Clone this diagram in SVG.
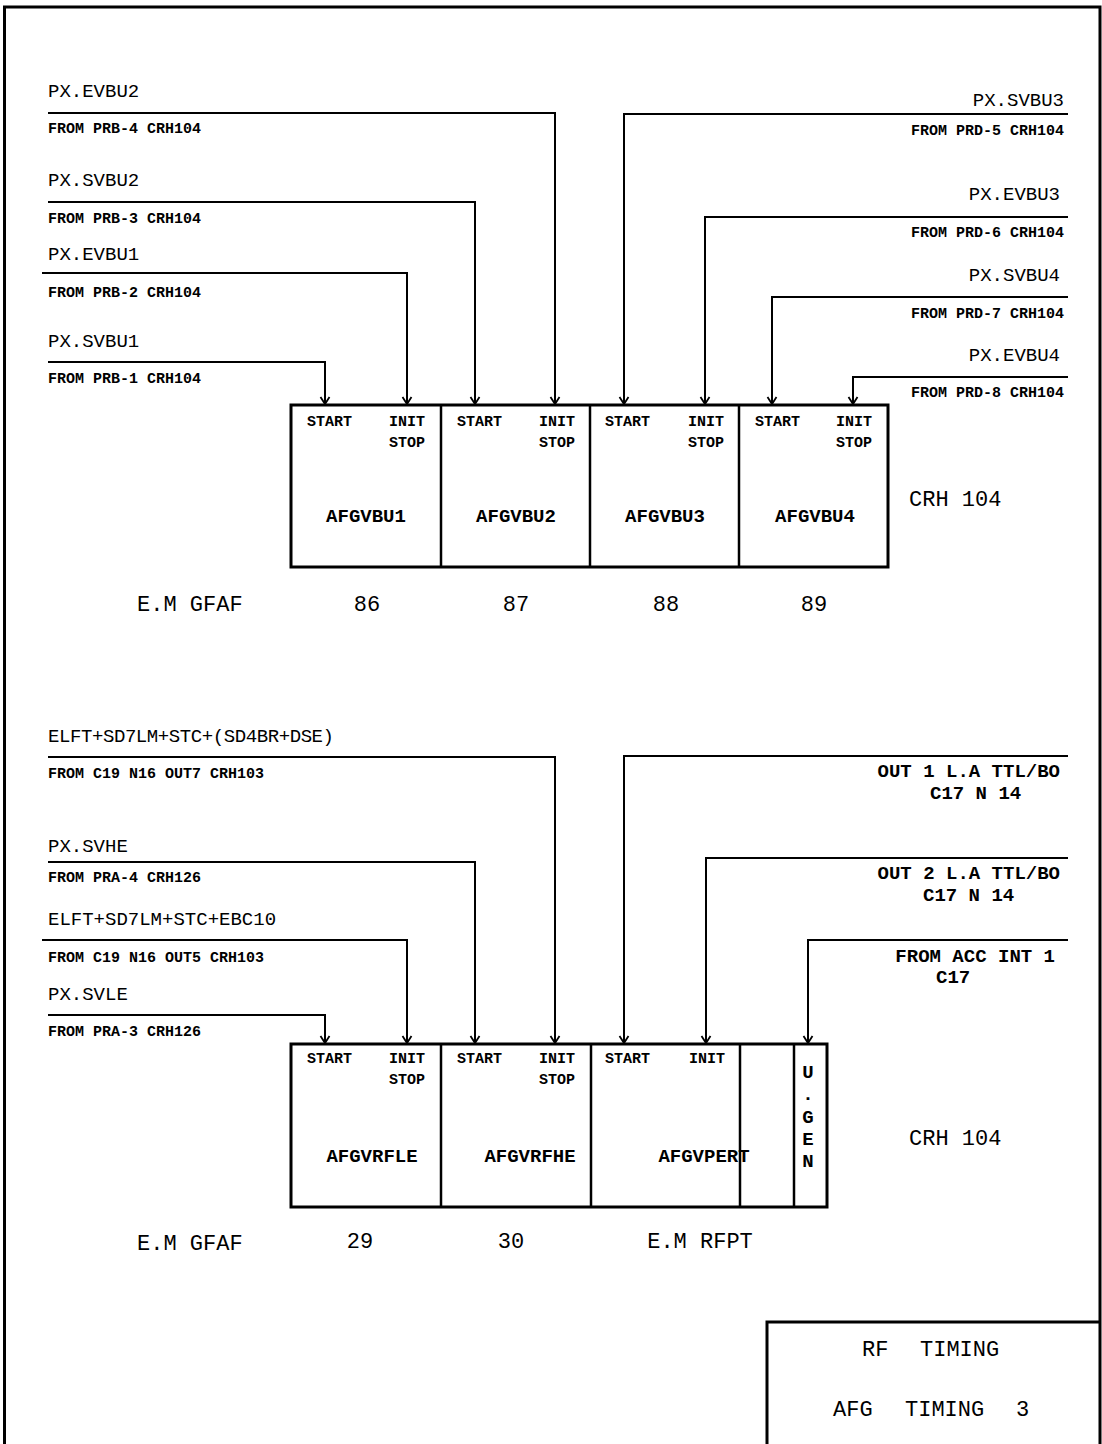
<svg xmlns="http://www.w3.org/2000/svg" width="1102" height="1444" viewBox="0 0 1102 1444">
<style>
text{font-family:"Liberation Mono","DejaVu Sans Mono",monospace;fill:#000}
.sig{font-size:19px}
.src{font-size:15px;font-weight:bold}
.pin{font-size:15px;font-weight:bold}
.name{font-size:19px;font-weight:bold}
.big{font-size:22px}
.rt{font-size:19px;font-weight:bold}
.e{text-anchor:end}
.m{text-anchor:middle}
.w{fill:none;stroke:#000;stroke-width:2}
.box{fill:#fff;stroke:#000;stroke-width:3}
.div{stroke:#000;stroke-width:2.5}
.frame{fill:none;stroke:#000;stroke-width:3}
</style>
<defs>
<marker id="arr" markerUnits="userSpaceOnUse" markerWidth="20" markerHeight="20" refX="0" refY="0" orient="auto" viewBox="-10 -10 20 20" overflow="visible">
<path d="M-7,-4.5 L0,0 L-7,4.5" fill="none" stroke="#000" stroke-width="1.8"/>
</marker>
</defs>
<rect width="1102" height="1444" fill="#fff"/>
<path class="frame" d="M4.5,1444 V7 H1100 V1444"/>

<g id="connectors">
<path class="w" d="M48,113 H555 V404" marker-end="url(#arr)"/>
<path class="w" d="M48,202 H475 V404" marker-end="url(#arr)"/>
<path class="w" d="M42,273 H407 V404" marker-end="url(#arr)"/>
<path class="w" d="M48,362 H325 V404" marker-end="url(#arr)"/>
<path class="w" d="M1068,114 H624 V404" marker-end="url(#arr)"/>
<path class="w" d="M1068,217 H705 V404" marker-end="url(#arr)"/>
<path class="w" d="M1068,297 H772 V404" marker-end="url(#arr)"/>
<path class="w" d="M1068,377 H853 V404" marker-end="url(#arr)"/>

<path class="w" d="M48,757 H555 V1043" marker-end="url(#arr)"/>
<path class="w" d="M48,862 H475 V1043" marker-end="url(#arr)"/>
<path class="w" d="M42,940 H407 V1043" marker-end="url(#arr)"/>
<path class="w" d="M48,1015 H325 V1043" marker-end="url(#arr)"/>
<path class="w" d="M1068,756 H624 V1043" marker-end="url(#arr)"/>
<path class="w" d="M1068,858 H706 V1043" marker-end="url(#arr)"/>
<path class="w" d="M1068,940 H808 V1043" marker-end="url(#arr)"/>
</g>

<g id="signal-labels">
<text class="sig" x="48" y="97">PX.EVBU2</text>
<text class="src" x="48" y="133">FROM PRB-4 CRH104</text>
<text class="sig" x="48" y="186">PX.SVBU2</text>
<text class="src" x="48" y="223">FROM PRB-3 CRH104</text>
<text class="sig" x="48" y="260">PX.EVBU1</text>
<text class="src" x="48" y="297">FROM PRB-2 CRH104</text>
<text class="sig" x="48" y="347">PX.SVBU1</text>
<text class="src" x="48" y="383">FROM PRB-1 CRH104</text>

<text class="sig e" x="1064" y="106">PX.SVBU3</text>
<text class="src e" x="1064" y="135">FROM PRD-5 CRH104</text>
<text class="sig e" x="1060" y="200">PX.EVBU3</text>
<text class="src e" x="1064" y="237">FROM PRD-6 CRH104</text>
<text class="sig e" x="1060" y="281">PX.SVBU4</text>
<text class="src e" x="1064" y="318">FROM PRD-7 CRH104</text>
<text class="sig e" x="1060" y="361">PX.EVBU4</text>
<text class="src e" x="1064" y="397">FROM PRD-8 CRH104</text>

<text class="sig" x="48" y="742" textLength="286" lengthAdjust="spacing">ELFT+SD7LM+STC+(SD4BR+DSE)</text>
<text class="src" x="48" y="778">FROM C19 N16 OUT7 CRH103</text>
<text class="sig" x="48" y="852">PX.SVHE</text>
<text class="src" x="48" y="882">FROM PRA-4 CRH126</text>
<text class="sig" x="48" y="925">ELFT+SD7LM+STC+EBC10</text>
<text class="src" x="48" y="962">FROM C19 N16 OUT5 CRH103</text>
<text class="sig" x="48" y="1000">PX.SVLE</text>
<text class="src" x="48" y="1036">FROM PRA-3 CRH126</text>

<text class="rt e" x="1060" y="777">OUT 1 L.A TTL/BO</text>
<text class="rt" x="930" y="799">C17 N 14</text>
<text class="rt e" x="1060" y="879">OUT 2 L.A TTL/BO</text>
<text class="rt" x="923" y="901">C17 N 14</text>
<text class="rt e" x="1055" y="962">FROM ACC INT 1</text>
<text class="rt" x="936" y="983">C17</text>
</g>

<g id="rack-top">
<rect class="box" x="291" y="405" width="597" height="162"/>
<line class="div" x1="441" y1="405" x2="441" y2="567"/>
<line class="div" x1="590" y1="405" x2="590" y2="567"/>
<line class="div" x1="739" y1="405" x2="739" y2="567"/>
</g>
<g id="AFGVBU1">
<text class="pin" x="307" y="426">START</text>
<text class="pin" x="389" y="426">INIT</text>
<text class="pin" x="389" y="447">STOP</text>
<text class="name m" x="366" y="522">AFGVBU1</text>
<text class="big m" x="367" y="611">86</text>
</g>
<g id="AFGVBU2">
<text class="pin" x="457" y="426">START</text>
<text class="pin" x="539" y="426">INIT</text>
<text class="pin" x="539" y="447">STOP</text>
<text class="name m" x="516" y="522">AFGVBU2</text>
<text class="big m" x="516" y="611">87</text>
</g>
<g id="AFGVBU3">
<text class="pin" x="605" y="426">START</text>
<text class="pin" x="688" y="426">INIT</text>
<text class="pin" x="688" y="447">STOP</text>
<text class="name m" x="665" y="522">AFGVBU3</text>
<text class="big m" x="666" y="611">88</text>
</g>
<g id="AFGVBU4">
<text class="pin" x="755" y="426">START</text>
<text class="pin" x="836" y="426">INIT</text>
<text class="pin" x="836" y="447">STOP</text>
<text class="name m" x="815" y="522">AFGVBU4</text>
<text class="big m" x="814" y="611">89</text>
</g>
<g id="top-labels">
<text class="big" x="137" y="611">E.M GFAF</text>
<text class="big" x="909" y="506">CRH 104</text>
</g>

<g id="rack-bottom">
<rect class="box" x="291" y="1044" width="536" height="163"/>
<line class="div" x1="441" y1="1044" x2="441" y2="1207"/>
<line class="div" x1="591" y1="1044" x2="591" y2="1207"/>
<line class="div" x1="740" y1="1044" x2="740" y2="1207"/>
<line class="div" x1="794" y1="1044" x2="794" y2="1207"/>
</g>
<g id="AFGVRFLE">
<text class="pin" x="307" y="1063">START</text>
<text class="pin" x="389" y="1063">INIT</text>
<text class="pin" x="389" y="1084">STOP</text>
<text class="name m" x="372" y="1162">AFGVRFLE</text>
<text class="big m" x="360" y="1248">29</text>
</g>
<g id="AFGVRFHE">
<text class="pin" x="457" y="1063">START</text>
<text class="pin" x="539" y="1063">INIT</text>
<text class="pin" x="539" y="1084">STOP</text>
<text class="name m" x="530" y="1162">AFGVRFHE</text>
<text class="big m" x="511" y="1248">30</text>
</g>
<g id="AFGVPERT">
<text class="pin" x="605" y="1063">START</text>
<text class="pin" x="689" y="1063">INIT</text>
<text class="name m" x="704" y="1162">AFGVPERT</text>
<text class="big m" x="700" y="1248">E.M RFPT</text>
</g>
<g id="UGEN">
<text class="name m" x="808" y="1078">U</text>
<text class="name m" x="808" y="1100">.</text>
<text class="name m" x="808" y="1123">G</text>
<text class="name m" x="808" y="1145">E</text>
<text class="name m" x="808" y="1167">N</text>
</g>
<g id="bottom-labels">
<text class="big" x="137" y="1250">E.M GFAF</text>
<text class="big" x="909" y="1145">CRH 104</text>
</g>

<g id="title-block">
<path class="frame" d="M767,1444 V1322 H1100"/>
<text class="big" y="1356"><tspan x="862">RF</tspan> <tspan x="920">TIMING</tspan></text>
<text class="big" y="1416"><tspan x="833">AFG</tspan> <tspan x="905">TIMING</tspan> <tspan x="1016">3</tspan></text>
</g>
</svg>
